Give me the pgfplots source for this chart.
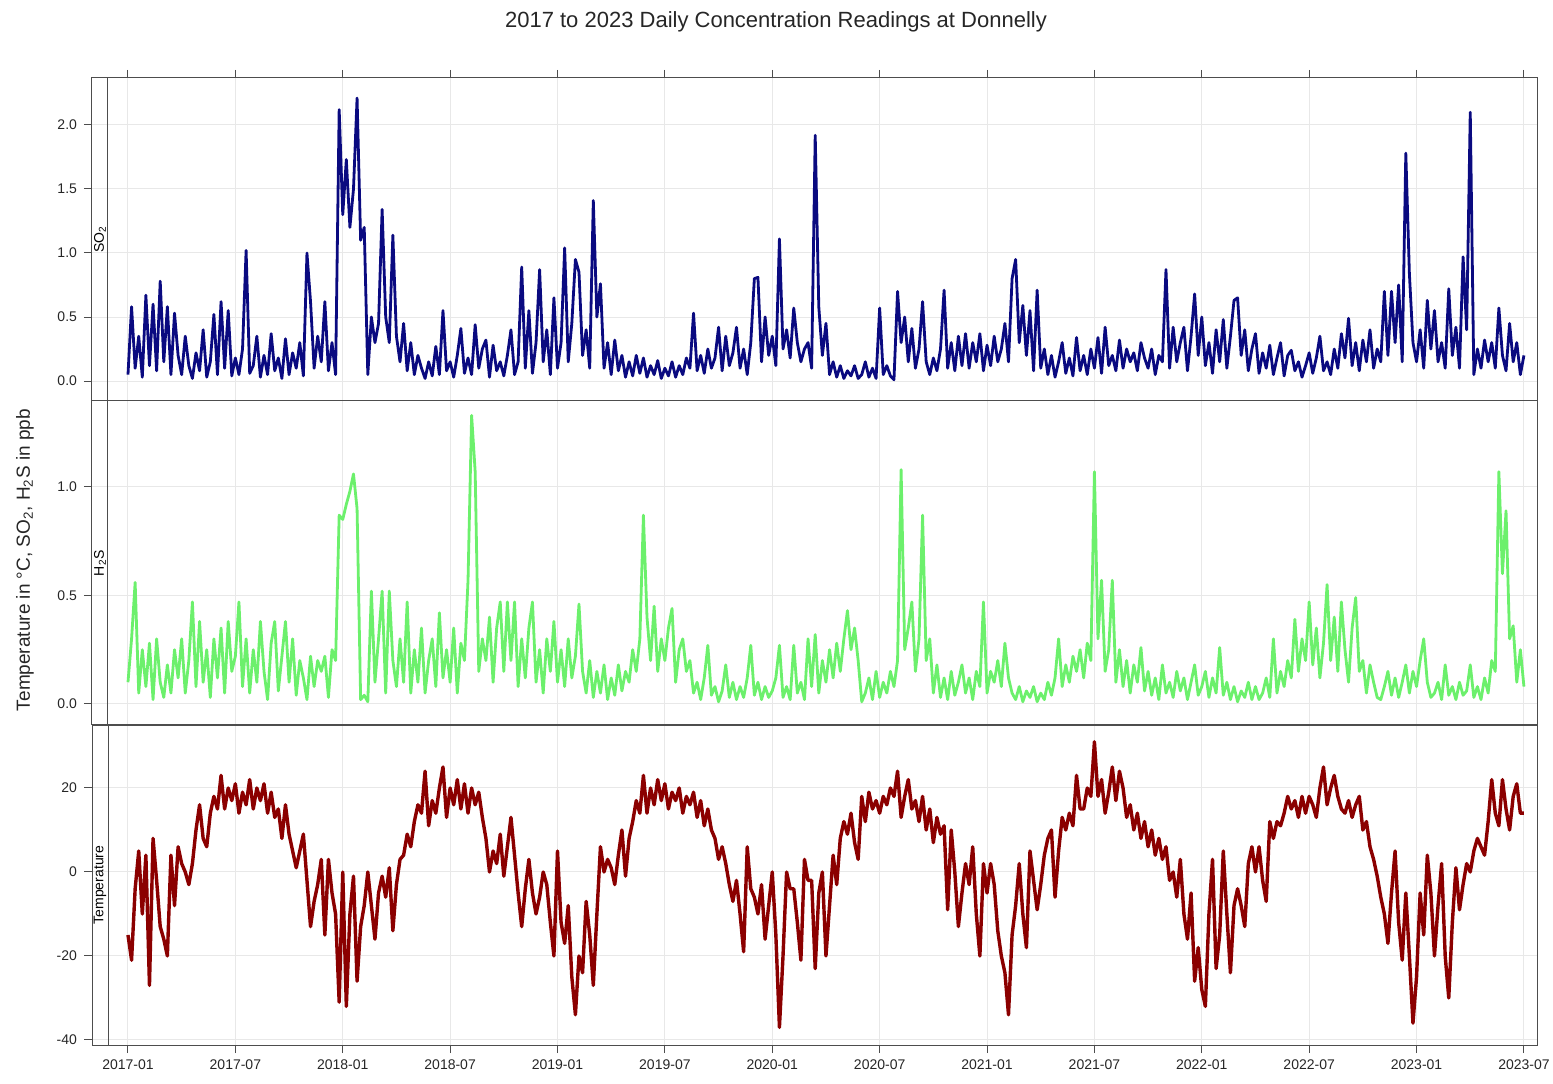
\documentclass[border=0pt]{standalone}
\usepackage{fontspec}
\setmainfont{Liberation Sans}
\usepackage{pgfplots}
\pgfplotsset{compat=1.18}
\definecolor{so2col}{HTML}{0A0A80}
\definecolor{h2scol}{HTML}{6CF06C}
\definecolor{tcol}{HTML}{8B0000}
\definecolor{frame}{HTML}{4D4D4D}

\pgfplotsset{panel/.style={
  scale only axis, width=722.5pt, anchor=north west,
  xmin=-2.011, xmax=78.73,
  xtick={0,6,...,78},
  grid=major, major grid style={draw=black!9, line width=0.5pt},
  axis line style={draw=frame, line width=0.5pt},
  tick style={draw=frame, line width=0.5pt},
  tick align=outside, major tick length=4pt,
  ytick pos=left,
  tick label style={font=\fontsize{7}{8}\selectfont, text=black!85},
  /pgf/number format/assume math mode=true,
  clip mode=individual,
  every axis plot/.append style={line width=1.5pt, line join=round},
}}

\begin{document}
\begin{tikzpicture}
\useasboundingbox (0,0) rectangle (776.5pt,541.5pt);

\node[font=\fontsize{11}{13}\selectfont, text=black!85] at (388pt,530.5pt) {2017 to 2023 Daily Concentration Readings at Donnelly};
\node[rotate=90, font=\fontsize{9.5}{11}\selectfont, text=black!85] at (12.5pt,261.5pt) {Temperature in °C, SO\textsubscript{2}, H\textsubscript{2}S in ppb};

% ---------- SO2 ----------
\begin{axis}[panel, at={(46pt,502.5pt)}, height=161.5pt,
  ymin=-0.156, ymax=2.367, ytick={0,0.5,1,1.5,2},
  yticklabel style={/pgf/number format/fixed, /pgf/number format/fixed zerofill, /pgf/number format/precision=1},
  xtick pos=right, xticklabels={}]
\addplot[so2col, line width=1.4pt] table[x expr=\coordindex/5, y index=0, header=false, row sep=\\] {
0.05\\0.58\\0.10\\0.35\\0.03\\
0.67\\0.12\\0.60\\0.08\\0.78\\
0.15\\0.58\\0.05\\0.53\\0.20\\
0.05\\0.35\\0.12\\0.02\\0.22\\
0.08\\0.40\\0.03\\0.15\\0.52\\
0.05\\0.62\\0.10\\0.55\\0.04\\
0.18\\0.05\\0.25\\1.02\\0.06\\
0.12\\0.35\\0.03\\0.20\\0.05\\
0.37\\0.08\\0.18\\0.02\\0.33\\
0.05\\0.22\\0.10\\0.30\\0.04\\
1.00\\0.62\\0.10\\0.35\\0.15\\
0.62\\0.08\\0.30\\0.05\\2.12\\
1.30\\1.73\\1.20\\1.50\\2.21\\
1.10\\1.20\\0.05\\0.50\\0.30\\
0.45\\1.34\\0.50\\0.30\\1.14\\
0.35\\0.15\\0.45\\0.08\\0.30\\
0.05\\0.20\\0.10\\0.02\\0.15\\
0.04\\0.27\\0.05\\0.55\\0.08\\
0.15\\0.03\\0.20\\0.41\\0.06\\
0.18\\0.05\\0.44\\0.10\\0.25\\
0.32\\0.03\\0.28\\0.08\\0.15\\
0.04\\0.20\\0.40\\0.05\\0.15\\
0.89\\0.10\\0.55\\0.06\\0.30\\
0.87\\0.15\\0.40\\0.05\\0.65\\
0.10\\0.30\\1.04\\0.15\\0.45\\
0.95\\0.85\\0.20\\0.40\\0.10\\
1.41\\0.50\\0.76\\0.10\\0.30\\
0.05\\0.32\\0.08\\0.20\\0.03\\
0.15\\0.04\\0.20\\0.06\\0.18\\
0.03\\0.12\\0.05\\0.16\\0.02\\
0.10\\0.04\\0.15\\0.03\\0.12\\
0.05\\0.18\\0.10\\0.53\\0.08\\
0.20\\0.06\\0.25\\0.10\\0.18\\
0.42\\0.08\\0.35\\0.12\\0.22\\
0.42\\0.10\\0.25\\0.05\\0.30\\
0.80\\0.81\\0.15\\0.50\\0.20\\
0.35\\0.12\\1.11\\0.25\\0.40\\
0.18\\0.57\\0.30\\0.15\\0.25\\
0.30\\0.10\\1.92\\0.58\\0.20\\
0.45\\0.05\\0.15\\0.03\\0.12\\
0.02\\0.08\\0.04\\0.12\\0.02\\
0.05\\0.15\\0.03\\0.10\\0.02\\
0.57\\0.05\\0.12\\0.04\\0.01\\
0.70\\0.30\\0.50\\0.15\\0.41\\
0.10\\0.25\\0.62\\0.15\\0.05\\
0.18\\0.08\\0.25\\0.71\\0.10\\
0.30\\0.08\\0.35\\0.12\\0.37\\
0.10\\0.30\\0.15\\0.37\\0.08\\
0.28\\0.12\\0.35\\0.15\\0.25\\
0.45\\0.15\\0.80\\0.95\\0.30\\
0.59\\0.20\\0.55\\0.08\\0.71\\
0.10\\0.25\\0.05\\0.20\\0.03\\
0.15\\0.30\\0.06\\0.18\\0.04\\
0.34\\0.08\\0.20\\0.05\\0.25\\
0.10\\0.34\\0.06\\0.42\\0.12\\
0.20\\0.08\\0.32\\0.10\\0.25\\
0.15\\0.22\\0.08\\0.30\\0.18\\
0.10\\0.25\\0.05\\0.20\\0.15\\
0.87\\0.10\\0.42\\0.15\\0.30\\
0.42\\0.08\\0.35\\0.68\\0.20\\
0.50\\0.12\\0.30\\0.06\\0.40\\
0.15\\0.48\\0.10\\0.35\\0.63\\
0.65\\0.20\\0.40\\0.08\\0.25\\
0.37\\0.06\\0.22\\0.10\\0.28\\
0.05\\0.18\\0.30\\0.04\\0.20\\
0.24\\0.08\\0.15\\0.03\\0.12\\
0.22\\0.06\\0.18\\0.35\\0.08\\
0.15\\0.05\\0.25\\0.10\\0.37\\
0.18\\0.49\\0.12\\0.30\\0.08\\
0.32\\0.15\\0.40\\0.10\\0.25\\
0.15\\0.70\\0.20\\0.70\\0.30\\
0.75\\0.15\\1.78\\0.84\\0.30\\
0.15\\0.40\\0.10\\0.63\\0.25\\
0.55\\0.15\\0.30\\0.10\\0.72\\
0.20\\0.42\\0.10\\0.97\\0.40\\
2.10\\0.05\\0.25\\0.10\\0.32\\
0.15\\0.30\\0.10\\0.57\\0.20\\
0.08\\0.45\\0.15\\0.30\\0.05\\
0.20\\
};
\draw[frame, line width=0.5pt] ([xshift=8pt]rel axis cs:0,0) -- ([xshift=8pt]rel axis cs:0,1);
\node[rotate=90, font=\fontsize{7}{8}\selectfont, inner sep=0pt] at ([xshift=4pt]rel axis cs:0,0.5) {SO\textsubscript{2}};
\end{axis}

% ---------- H2S ----------
\begin{axis}[panel, at={(46pt,341pt)}, height=162pt,
  ymin=-0.097, ymax=1.396, ytick={0,0.5,1},
  yticklabel style={/pgf/number format/fixed, /pgf/number format/fixed zerofill, /pgf/number format/precision=1},
  xtick style={draw=none}, xticklabels={}]
\addplot[h2scol, line width=1.4pt] table[x expr=\coordindex/5, y index=0, header=false, row sep=\\] {
0.10\\0.30\\0.56\\0.05\\0.25\\
0.08\\0.28\\0.02\\0.30\\0.10\\
0.03\\0.18\\0.05\\0.25\\0.12\\
0.30\\0.05\\0.20\\0.47\\0.08\\
0.38\\0.10\\0.25\\0.03\\0.30\\
0.12\\0.35\\0.05\\0.38\\0.15\\
0.22\\0.47\\0.08\\0.30\\0.05\\
0.25\\0.10\\0.38\\0.15\\0.02\\
0.28\\0.38\\0.06\\0.22\\0.38\\
0.10\\0.30\\0.04\\0.20\\0.12\\
0.02\\0.22\\0.08\\0.20\\0.15\\
0.22\\0.03\\0.25\\0.20\\0.87\\
0.85\\0.92\\0.98\\1.06\\0.90\\
0.02\\0.04\\0.01\\0.52\\0.10\\
0.30\\0.52\\0.05\\0.52\\0.20\\
0.08\\0.30\\0.10\\0.47\\0.05\\
0.25\\0.10\\0.35\\0.05\\0.20\\
0.30\\0.08\\0.42\\0.12\\0.25\\
0.10\\0.35\\0.05\\0.28\\0.20\\
0.57\\1.33\\1.07\\0.15\\0.30\\
0.20\\0.40\\0.10\\0.35\\0.47\\
0.15\\0.47\\0.20\\0.47\\0.08\\
0.30\\0.12\\0.35\\0.47\\0.10\\
0.25\\0.05\\0.30\\0.15\\0.38\\
0.10\\0.25\\0.08\\0.30\\0.12\\
0.22\\0.46\\0.15\\0.05\\0.20\\
0.03\\0.15\\0.05\\0.18\\0.02\\
0.12\\0.04\\0.18\\0.06\\0.15\\
0.10\\0.25\\0.15\\0.30\\0.87\\
0.40\\0.20\\0.45\\0.15\\0.30\\
0.20\\0.35\\0.44\\0.10\\0.25\\
0.30\\0.15\\0.20\\0.05\\0.10\\
0.02\\0.12\\0.27\\0.04\\0.08\\
0.01\\0.06\\0.18\\0.03\\0.10\\
0.02\\0.08\\0.03\\0.12\\0.27\\
0.04\\0.10\\0.02\\0.08\\0.03\\
0.06\\0.12\\0.27\\0.03\\0.08\\
0.02\\0.27\\0.05\\0.10\\0.02\\
0.30\\0.08\\0.32\\0.05\\0.20\\
0.10\\0.25\\0.12\\0.28\\0.15\\
0.30\\0.43\\0.25\\0.35\\0.20\\
0.01\\0.05\\0.12\\0.02\\0.15\\
0.03\\0.10\\0.05\\0.15\\0.08\\
0.20\\1.08\\0.25\\0.35\\0.47\\
0.15\\0.30\\0.87\\0.20\\0.30\\
0.05\\0.18\\0.03\\0.12\\0.02\\
0.15\\0.04\\0.10\\0.18\\0.05\\
0.12\\0.02\\0.15\\0.08\\0.47\\
0.05\\0.15\\0.10\\0.20\\0.08\\
0.28\\0.12\\0.05\\0.02\\0.08\\
0.01\\0.06\\0.03\\0.08\\0.01\\
0.05\\0.02\\0.10\\0.04\\0.12\\
0.30\\0.08\\0.18\\0.10\\0.22\\
0.15\\0.25\\0.12\\0.28\\0.20\\
1.07\\0.30\\0.57\\0.15\\0.25\\
0.57\\0.10\\0.25\\0.08\\0.20\\
0.05\\0.18\\0.10\\0.26\\0.06\\
0.15\\0.04\\0.12\\0.02\\0.18\\
0.05\\0.10\\0.03\\0.15\\0.06\\
0.12\\0.02\\0.10\\0.18\\0.04\\
0.08\\0.15\\0.03\\0.12\\0.05\\
0.26\\0.04\\0.10\\0.02\\0.08\\
0.01\\0.06\\0.03\\0.10\\0.02\\
0.08\\0.02\\0.05\\0.12\\0.03\\
0.30\\0.05\\0.15\\0.08\\0.20\\
0.12\\0.39\\0.15\\0.30\\0.20\\
0.47\\0.18\\0.35\\0.12\\0.28\\
0.55\\0.20\\0.40\\0.15\\0.47\\
0.25\\0.10\\0.35\\0.49\\0.15\\
0.20\\0.05\\0.18\\0.10\\0.03\\
0.02\\0.08\\0.15\\0.04\\0.12\\
0.03\\0.10\\0.18\\0.05\\0.15\\
0.08\\0.20\\0.30\\0.10\\0.03\\
0.05\\0.10\\0.02\\0.18\\0.04\\
0.08\\0.02\\0.10\\0.04\\0.06\\
0.18\\0.03\\0.08\\0.02\\0.12\\
0.05\\0.20\\0.15\\1.07\\0.60\\
0.89\\0.30\\0.36\\0.10\\0.25\\
0.08\\
};
\draw[frame, line width=0.5pt] ([xshift=8pt]rel axis cs:0,0) -- ([xshift=8pt]rel axis cs:0,1);
\node[rotate=90, font=\fontsize{7}{8}\selectfont, inner sep=0pt] at ([xshift=4pt]rel axis cs:0,0.5) {H\textsubscript{2}S};
\end{axis}

% ---------- Temperature ----------
\begin{axis}[panel, at={(46pt,179pt)}, height=160pt,
  ymin=-41.2, ymax=35, ytick={-40,-20,0,20},
  xtick pos=left,
  xticklabels={2017-01,2017-07,2018-01,2018-07,2019-01,2019-07,2020-01,2020-07,2021-01,2021-07,2022-01,2022-07,2023-01,2023-07}]
\addplot[tcol, line width=1.7pt] table[x expr=\coordindex/5, y index=0, header=false, row sep=\\] {
-15\\-21\\-4\\5\\-10\\
4\\-27\\8\\-2\\-13\\
-16\\-20\\4\\-8\\6\\
2\\0\\-3\\2\\10\\
16\\8\\6\\14\\18\\
15\\23\\15\\20\\17\\
21\\14\\19\\16\\22\\
15\\20\\17\\21\\14\\
19\\13\\15\\8\\16\\
9\\5\\1\\5\\9\\
-2\\-13\\-7\\-3\\3\\
-15\\3\\-5\\-10\\-31\\
0\\-32\\-10\\-1\\-26\\
-13\\-8\\0\\-8\\-16\\
-5\\-1\\-6\\1\\-14\\
-3\\3\\4\\9\\6\\
12\\16\\14\\24\\11\\
17\\14\\20\\25\\13\\
20\\16\\22\\15\\21\\
14\\20\\16\\19\\13\\
8\\0\\5\\2\\9\\
-1\\6\\13\\4\\-5\\
-13\\-4\\3\\-5\\-10\\
-6\\0\\-3\\-12\\-20\\
5\\-12\\-17\\-8\\-25\\
-34\\-20\\-24\\-7\\-15\\
-27\\-10\\6\\0\\3\\
1\\-3\\4\\10\\-1\\
8\\12\\17\\14\\23\\
14\\20\\16\\22\\17\\
21\\15\\19\\17\\20\\
14\\18\\16\\19\\13\\
17\\11\\15\\10\\8\\
3\\6\\2\\-3\\-7\\
-2\\-10\\-19\\6\\-4\\
-6\\-10\\-3\\-16\\-8\\
0\\-15\\-37\\-20\\0\\
-4\\-4\\-12\\-21\\3\\
-2\\-2\\-23\\-5\\0\\
-20\\-8\\4\\-3\\8\\
12\\9\\14\\7\\3\\
18\\12\\19\\15\\17\\
14\\18\\16\\20\\18\\
24\\13\\18\\22\\15\\
17\\12\\18\\10\\15\\
7\\13\\9\\11\\-9\\
10\\0\\-13\\-5\\2\\
-3\\6\\-10\\-20\\2\\
-5\\2\\-3\\-14\\-20\\
-24\\-34\\-15\\-8\\2\\
-10\\-18\\5\\-2\\-9\\
-3\\4\\8\\10\\-6\\
5\\13\\10\\14\\11\\
23\\15\\15\\20\\18\\
31\\18\\22\\14\\19\\
25\\17\\24\\20\\13\\
16\\10\\14\\8\\12\\
6\\10\\4\\8\\3\\
6\\-2\\0\\-6\\3\\
-10\\-16\\-5\\-26\\-18\\
-28\\-32\\-10\\3\\-23\\
-15\\5\\-10\\-24\\-8\\
-4\\-8\\-13\\2\\6\\
0\\6\\-2\\-7\\12\\
8\\12\\11\\14\\18\\
15\\17\\13\\18\\14\\
18\\16\\13\\20\\25\\
16\\20\\23\\18\\15\\
14\\17\\13\\16\\18\\
10\\12\\6\\3\\-1\\
-6\\-10\\-17\\-5\\5\\
-12\\-21\\-5\\-20\\-36\\
-25\\-5\\-15\\4\\-5\\
-20\\-8\\2\\-20\\-30\\
-12\\1\\-9\\-3\\2\\
0\\5\\8\\6\\4\\
12\\22\\14\\11\\22\\
15\\10\\18\\21\\14\\
14\\
};
\draw[frame, line width=0.5pt] ([xshift=8pt]rel axis cs:0,0) -- ([xshift=8pt]rel axis cs:0,1);
\node[rotate=90, font=\fontsize{7}{8}\selectfont, inner sep=0pt] at ([xshift=4pt]rel axis cs:0,0.5) {Temperature};
\end{axis}
\end{tikzpicture}
\end{document}
